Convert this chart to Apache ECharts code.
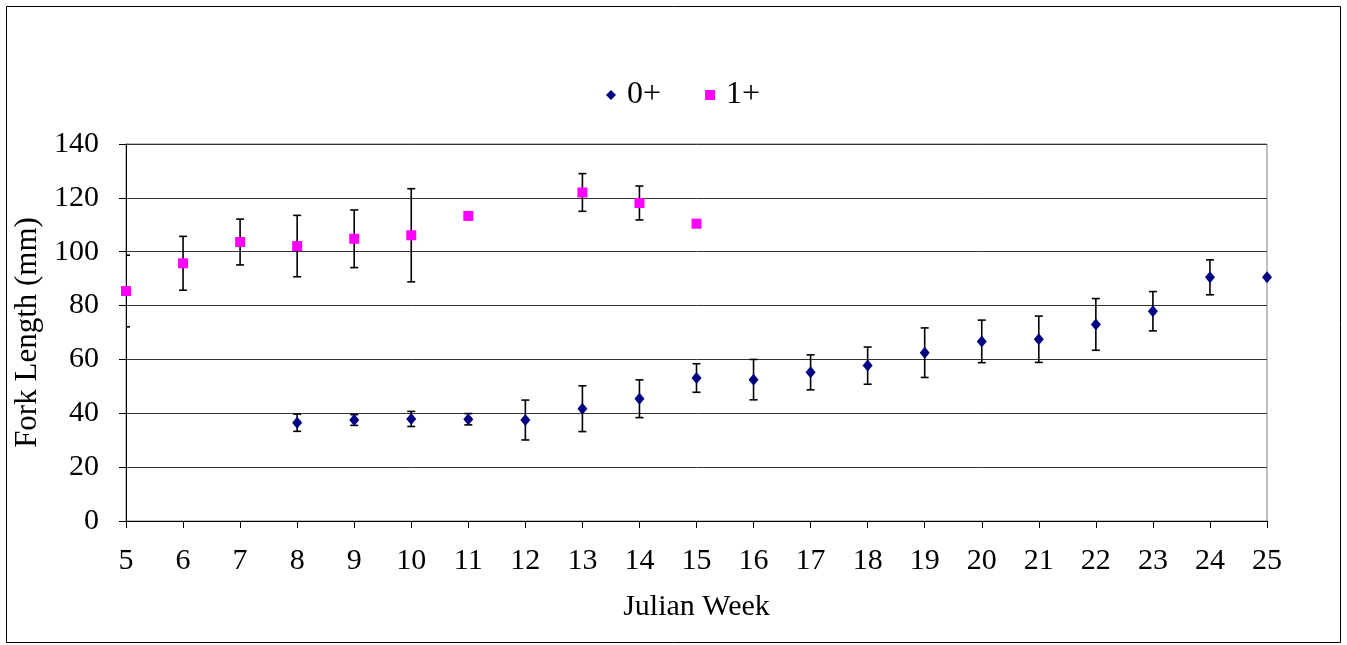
<!DOCTYPE html>
<html>
<head>
<meta charset="utf-8">
<script src="https://cdn.jsdelivr.net/npm/echarts@6/dist/echarts.min.js"></script>
<style>
  html, body { margin: 0; padding: 0; background: #fff; }
  #chart { width: 1347px; height: 645px; }
</style>
</head>
<body>
<div id="chart"></div>
<script>
// Julian weeks and mean fork length (mm) with ± error for each age class
const weeks0 = [8, 9, 10, 11, 12, 13, 14, 15, 16, 17, 18, 19, 20, 21, 22, 23, 24, 25];
const mean0  = [36.5, 37.5, 37.9, 37.8, 37.5, 41.7, 45.4, 53.1, 52.5, 55.2, 57.7, 62.5, 66.7, 67.5, 73.0, 77.9, 90.5, 90.5];
const err0   = [3.2, 2.0, 2.8, 2.1, 7.4, 8.5, 7.0, 5.3, 7.5, 6.5, 6.9, 9.2, 7.9, 8.6, 9.6, 7.3, 6.5, null];

const weeks1 = [5, 6, 7, 8, 9, 10, 11, 13, 14, 15];
const mean1  = [85.4, 95.7, 103.6, 102.1, 104.8, 106.1, 113.3, 122.0, 118.1, 110.4];
const err1   = [13.3, 10.0, 8.5, 11.4, 10.7, 17.3, null, 7.0, 6.3, null];

const yTicks = { min: 0, max: 140, interval: 20 };
const xTicks = { min: 5, max: 25, interval: 1 };

function points(w, m) { return w.map((x, i) => [x, m[i]]); }
function bars(w, m, e) {
  return w.map((x, i) => e[i] == null ? null : [x, m[i] - e[i], m[i] + e[i]]).filter(Boolean);
}

// Vertical whisker with short caps, drawn through the axes' own scales
function renderErrorBar(params, api) {
  const x = api.value(0);
  const lo = api.coord([x, api.value(1)]);
  const hi = api.coord([x, api.value(2)]);
  const cap = 4;
  const style = { stroke: '#000', lineWidth: 1.6 };
  return {
    type: 'group',
    children: [
      { type: 'line', shape: { x1: lo[0], y1: lo[1], x2: hi[0], y2: hi[1] }, style },
      { type: 'line', shape: { x1: lo[0] - cap, y1: lo[1], x2: lo[0] + cap, y2: lo[1] }, style },
      { type: 'line', shape: { x1: hi[0] - cap, y1: hi[1], x2: hi[0] + cap, y2: hi[1] }, style }
    ]
  };
}

const font = '"Liberation Serif", "Times New Roman", serif';
const chart = echarts.init(document.getElementById('chart'), null, { renderer: 'canvas' });

chart.setOption({
  animation: false,
  backgroundColor: '#fff',
  textStyle: { fontFamily: font, color: '#000' },
  graphic: [{
    type: 'rect',
    shape: { x: 6.5, y: 6.5, width: 1334, height: 636 },
    style: { fill: null, stroke: '#000', lineWidth: 1 },
    silent: true
  }],
  legend: {
    top: 74,
    left: 601,
    itemGap: 44,
    itemWidth: 10,
    itemHeight: 10,
    textStyle: { fontFamily: font, fontSize: 32, color: '#000', padding: [0, 0, 0, 6] },
    data: [
      { name: '0+', icon: 'diamond' },
      { name: '1+', icon: 'rect' }
    ]
  },
  grid: {
    left: 126, right: 80, top: 144, bottom: 124,
    show: true, borderColor: '#808080', borderWidth: 1
  },
  xAxis: {
    type: 'value',
    min: xTicks.min, max: xTicks.max, interval: xTicks.interval,
    name: 'Julian Week',
    nameLocation: 'middle',
    nameGap: 71,
    nameTextStyle: { fontFamily: font, fontSize: 30, color: '#000' },
    axisLine: { lineStyle: { color: '#000', width: 1 } },
    axisTick: { show: true, length: 7, lineStyle: { color: '#000' } },
    axisLabel: { fontFamily: font, fontSize: 30, color: '#000', margin: 25 },
    splitLine: { show: false }
  },
  yAxis: {
    type: 'value',
    min: yTicks.min, max: yTicks.max, interval: yTicks.interval,
    name: 'Fork Length (mm)',
    nameLocation: 'middle',
    nameGap: 74,
    nameTextStyle: { fontFamily: font, fontSize: 31, color: '#000' },
    axisLine: { show: true, lineStyle: { color: '#000', width: 1 } },
    axisTick: { show: true, length: 7, lineStyle: { color: '#000' } },
    axisLabel: { fontFamily: font, fontSize: 30, color: '#000', margin: 27 },
    splitLine: { show: true, lineStyle: { color: '#333', width: 1 } }
  },
  series: [
    {
      type: 'custom', name: 'err0', clip: true, z: 2,
      renderItem: renderErrorBar,
      encode: { x: 0, y: [1, 2] },
      data: bars(weeks0, mean0, err0)
    },
    {
      type: 'custom', name: 'err1', clip: true, z: 2,
      renderItem: renderErrorBar,
      encode: { x: 0, y: [1, 2] },
      data: bars(weeks1, mean1, err1)
    },
    {
      type: 'scatter', name: '0+', symbol: 'diamond', symbolSize: [10, 12], z: 3,
      itemStyle: { color: '#000080', opacity: 1 },
      data: points(weeks0, mean0)
    },
    {
      type: 'scatter', name: '1+', symbol: 'rect', symbolSize: 10, z: 3,
      itemStyle: { color: '#ff00ff', opacity: 1 },
      data: points(weeks1, mean1)
    }
  ]
});
</script>
</body>
</html>
